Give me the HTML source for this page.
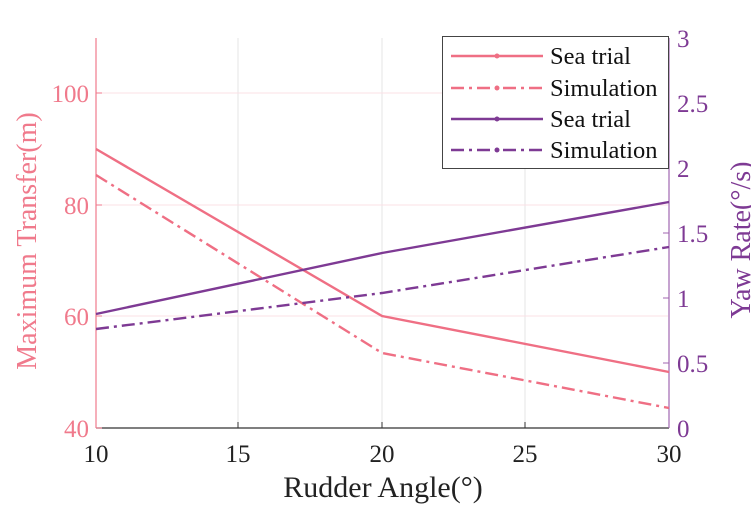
<!DOCTYPE html>
<html><head><meta charset="utf-8"><style>body{margin:0;background:#fff}svg{display:block}text{font-family:"Liberation Serif",serif}</style></head><body>
<svg width="751" height="505" viewBox="0 0 751 505">
<rect width="751" height="505" fill="#fff"/>
<g stroke="#e4e4e4" stroke-width="1">
<line x1="238" y1="38" x2="238" y2="428"/><line x1="382" y1="38" x2="382" y2="428"/><line x1="525" y1="38" x2="525" y2="428"/>
</g>
<g stroke="#fbe0e6" stroke-width="1">
<line x1="96" y1="93" x2="668" y2="93"/><line x1="96" y1="205" x2="668" y2="205"/><line x1="96" y1="316" x2="668" y2="316"/>
</g>
<line x1="96" y1="428" x2="669" y2="428" stroke="#333" stroke-width="1.2"/>
<g stroke="#333"><line x1="238" y1="428" x2="238" y2="422"/><line x1="382" y1="428" x2="382" y2="422"/><line x1="525" y1="428" x2="525" y2="422"/></g>
<line x1="96" y1="38" x2="96" y2="428" stroke="#f07a8c" stroke-width="1.2"/>
<g stroke="#f07a8c"><line x1="96" y1="93" x2="102" y2="93"/><line x1="96" y1="205" x2="102" y2="205"/><line x1="96" y1="316" x2="102" y2="316"/><line x1="96" y1="428" x2="102" y2="428"/></g>
<line x1="669" y1="38" x2="669" y2="428" stroke="#a066b0" stroke-width="1.2"/>
<g stroke="#a066b0"><line x1="663" y1="363" x2="669" y2="363"/><line x1="663" y1="298" x2="669" y2="298"/><line x1="663" y1="233" x2="669" y2="233"/><line x1="663" y1="168" x2="669" y2="168"/></g>
<g fill="none" stroke-width="2.4">
<polyline points="96,149 382,316 669,372" stroke="#ef6f84"/>
<polyline points="96,175 382,353 669,408" stroke="#ef6f84" stroke-dasharray="13,5,3,5"/>
<polyline points="96,314 382,253 669,202" stroke="#7e3a94"/>
<polyline points="96,329 382,293 669,247" stroke="#7e3a94" stroke-dasharray="13,5,3,5"/>
</g>
<g font-size="25" fill="#f07a8c" text-anchor="end">
<text x="89" y="102">100</text><text x="89" y="214">80</text><text x="89" y="325">60</text><text x="89" y="437">40</text></g>
<g font-size="25" fill="#7e3a94">
<text x="677" y="47">3</text><text x="677" y="112">2.5</text><text x="677" y="177">2</text><text x="677" y="242">1.5</text><text x="677" y="307">1</text><text x="677" y="372">0.5</text><text x="677" y="437">0</text></g>
<g font-size="25" fill="#222" text-anchor="middle">
<text x="96" y="462">10</text><text x="238" y="462">15</text><text x="382" y="462">20</text><text x="525" y="462">25</text><text x="669" y="462">30</text>
<text x="383" y="497" font-size="30">Rudder Angle(°)</text></g>
<text transform="translate(36,241) rotate(-90)" font-size="28" fill="#f07a8c" text-anchor="middle">Maximum Transfer(m)</text>
<text transform="translate(750,240) rotate(-90)" font-size="28" fill="#7e3a94" text-anchor="middle">Yaw Rate(°/s)</text>
<rect x="442.5" y="36.5" width="226" height="132" fill="#fff" stroke="#444" stroke-width="1"/>
<g stroke-width="2.4">
<line x1="451" y1="56" x2="543" y2="56" stroke="#ef6f84"/>
<line x1="451" y1="88" x2="543" y2="88" stroke="#ef6f84" stroke-dasharray="13,5,3,5"/>
<line x1="451" y1="119" x2="543" y2="119" stroke="#7e3a94"/>
<line x1="451" y1="150" x2="543" y2="150" stroke="#7e3a94" stroke-dasharray="13,5,3,5"/>
</g>
<g fill="#ef6f84"><circle cx="497" cy="56" r="2.5"/><circle cx="497" cy="88" r="2.5"/></g>
<g fill="#7e3a94"><circle cx="497" cy="119" r="2.5"/><circle cx="497" cy="150" r="2.5"/></g>
<g font-size="24.5" fill="#111">
<text x="550" y="64">Sea trial</text><text x="550" y="96">Simulation</text><text x="550" y="127">Sea trial</text><text x="550" y="158">Simulation</text></g>
</svg>
</body></html>
